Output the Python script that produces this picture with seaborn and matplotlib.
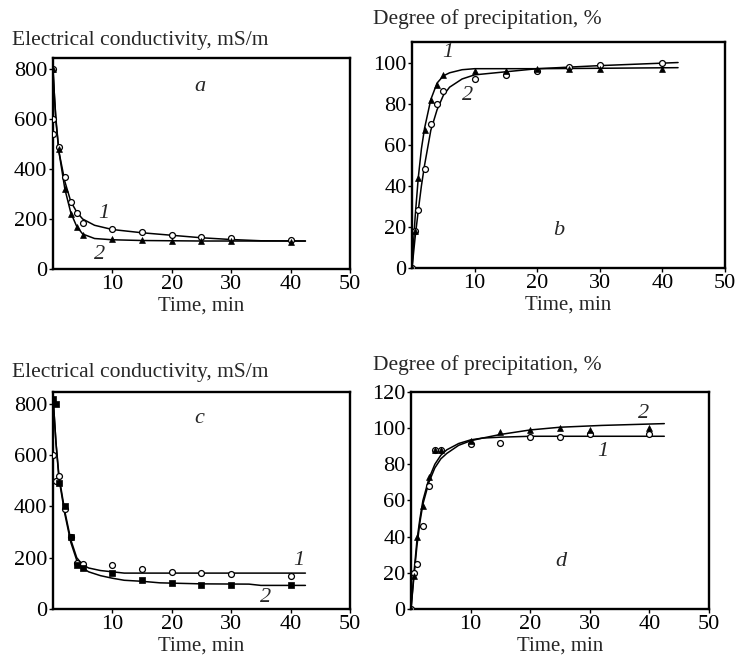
import matplotlib
matplotlib.use('Agg')
import matplotlib.pyplot as plt
import seaborn as sns
import pandas as pd

# ---- panel a : conductivity ----
a_t_pts = [0, 0, 0, 1, 2, 3, 4, 5, 10, 15, 20, 25, 30, 40]
a_pts1 = [800, 600, 540, 490, 370, 270, 225, 185, 160, 148, 136, 128, 124, 118]
a_t_pts2 = [0, 1, 2, 3, 4, 5, 10, 15, 20, 25, 30, 40]
a_pts2 = [800, 480, 320, 220, 170, 135, 120, 118, 112, 112, 112, 110]
a_t_fit = [0, 0.25, 0.5, 1, 2, 3, 4, 5, 7, 10, 15, 20, 25, 30, 35, 42.5]
a_fit1 = [800, 690, 590, 470, 350, 270, 228, 200, 175, 158, 145, 135, 125, 118, 113, 112]
a_fit2 = [800, 690, 600, 470, 320, 225, 170, 140, 122, 117, 114, 113, 112, 112, 112, 112]

# ---- panel b : precipitation ----
b_t_pts = [0, 0.5, 1, 2, 3, 4, 5, 10, 15, 20, 25, 30, 40]
b_pts1 = [0, 18, 44, 67, 82, 89, 94, 96, 96, 97, 97, 97, 97]
b_pts2 = [0, 18, 28, 48, 70, 80, 86, 92, 94, 96, 98, 99, 100]
b_t_fit = [0, 0.5, 1, 1.5, 2, 3, 4, 5, 6, 8, 10, 15, 20, 30, 42.5]
b_fit1 = [0, 25, 44, 58, 68, 82, 90, 93.5, 95, 96.5, 97, 97, 97, 97.2, 97.5]
b_fit2 = [0, 15, 28, 40, 50, 67, 77, 84, 88, 92, 94, 95.5, 97, 98.5, 100]

# ---- panel c : conductivity ----
c_t_pts = [0, 0.5, 1, 2, 3, 4, 5, 10, 15, 20, 25, 30, 40]
c_pts1 = [600, 500, 520, 390, 280, 180, 175, 170, 155, 145, 140, 135, 130]
c_pts2 = [820, 800, 490, 400, 280, 170, 160, 140, 115, 100, 95, 95, 95]
c_t_fit = [0, 0.5, 1, 2, 3, 4, 5, 6, 8, 10, 12, 15, 18, 25, 33, 35, 42.5]
c_fit1 = [830, 650, 520, 380, 270, 200, 172, 160, 150, 145, 140, 140, 140, 140, 140, 140, 140]
c_fit2 = [830, 650, 510, 370, 260, 190, 160, 145, 130, 120, 112, 108, 102, 98, 97, 92, 92]

# ---- panel d : precipitation ----
d_t_pts = [0, 0.5, 1, 2, 3, 4, 5, 10, 15, 20, 25, 30, 40]
d_pts1 = [0, 20, 25, 46, 68, 88, 88, 91, 92, 95, 95, 97, 97]
d_pts2 = [0, 18, 40, 57, 73, 88, 88, 93, 98, 99, 100, 99, 100]
d_t_fit = [0, 0.5, 1, 1.5, 2, 3, 4, 5, 6, 8, 10, 12, 15, 20, 25, 32, 42.5]
d_fit1 = [0, 20, 38, 50, 60, 72, 80, 85, 88, 91.5, 93.5, 94.5, 95, 95.5, 95.5, 95.5, 95.5]
d_fit2 = [0, 18, 35, 48, 58, 70, 78, 83, 86, 90.5, 93, 94.5, 96.5, 99, 100.5, 101.5, 102.5]

cond_label = 'Electrical conductivity, mS/m'
prec_label = 'Degree of precipitation, %'
x_label = 'Time, min'

sns.set_style('ticks')
plt.rcParams['font.family'] = ['Liberation Serif', 'DejaVu Serif']
plt.rcParams['font.size'] = 15
plt.rcParams['xtick.labelsize'] = 16
plt.rcParams['ytick.labelsize'] = 16

fig = plt.figure(figsize=(7.38, 6.57), dpi=100)
ax_a = fig.add_axes([0.0718, 0.5906, 0.4024, 0.3211])
ax_b = fig.add_axes([0.5583, 0.5921, 0.4241, 0.3440])
ax_c = fig.add_axes([0.0718, 0.0731, 0.4024, 0.3303])
ax_d = fig.add_axes([0.5569, 0.0731, 0.4038, 0.3303])


def draw(ax, t_fit, fit1, fit2, t1, p1, t2, p2, m1, m2):
    sns.lineplot(x=t_fit, y=fit1, ax=ax, color='black', lw=1.1, sort=False)
    sns.lineplot(x=t_fit, y=fit2, ax=ax, color='black', lw=1.1, sort=False)
    sns.scatterplot(x=t1, y=p1, ax=ax, marker=m1, s=18, facecolor='white',
                    edgecolor='black', linewidth=0.9, zorder=3)
    sns.scatterplot(x=t2, y=p2, ax=ax, marker=m2, s=18, color='black',
                    edgecolor='black', linewidth=0.5, zorder=3)
    ax.set_xlim(0, 50)
    ax.set_xticks([10, 20, 30, 40, 50])
    ax.set_xlabel(x_label, labelpad=2, fontsize=15)
    ax.set_ylabel('')
    for s in ax.spines.values():
        s.set_linewidth(1.7)
        s.set_color('black')
    ax.tick_params(length=3, width=1, pad=1, colors='black')


draw(ax_a, a_t_fit, a_fit1, a_fit2, a_t_pts, a_pts1, a_t_pts2, a_pts2, 'o', '^')
ax_a.set_ylim(0, 845)
ax_a.set_yticks(range(0, 801, 200))

draw(ax_b, b_t_fit, b_fit1, b_fit2, b_t_pts, b_pts2, b_t_pts, b_pts1, 'o', '^')
ax_b.set_ylim(0, 110)
ax_b.set_yticks(range(0, 101, 20))

draw(ax_c, c_t_fit, c_fit1, c_fit2, c_t_pts, c_pts1, c_t_pts, c_pts2, 'o', 's')
ax_c.set_ylim(0, 847)
ax_c.set_yticks(range(0, 801, 200))

draw(ax_d, d_t_fit, d_fit1, d_fit2, d_t_pts, d_pts1, d_t_pts, d_pts2, 'o', '^')
ax_d.set_ylim(0, 120)
ax_d.set_yticks(range(0, 121, 20))

# panel letters and curve numbers
it = dict(style='italic', fontsize=16, ha='center', va='center')
ax_a.text(24.7, 732, 'a', **it)
ax_a.text(8.6, 224, '1', **it)
ax_a.text(7.8, 56, '2', **it)
ax_b.text(23.5, 18.4, 'b', **it)
ax_b.text(5.7, 105, '1', **it)
ax_b.text(8.8, 84, '2', **it)
ax_c.text(24.7, 745, 'c', **it)
ax_c.text(41.4, 191, '1', **it)
ax_c.text(35.8, 43, '2', **it)
ax_d.text(25.2, 26, 'd', **it)
ax_d.text(39.1, 108, '2', **it)
ax_d.text(32.2, 87, '1', **it)

# y-axis titles above the frames
fig.text(12 / 738, 1 - 41 / 657, cond_label, fontsize=15.5, va='center')
fig.text(373 / 738, 1 - 19 / 657, prec_label, fontsize=15.5, va='center')
fig.text(12 / 738, 1 - 373 / 657, cond_label, fontsize=15.5, va='center')
fig.text(373 / 738, 1 - 365 / 657, prec_label, fontsize=15.5, va='center')

fig.savefig('out.png', dpi=100)
